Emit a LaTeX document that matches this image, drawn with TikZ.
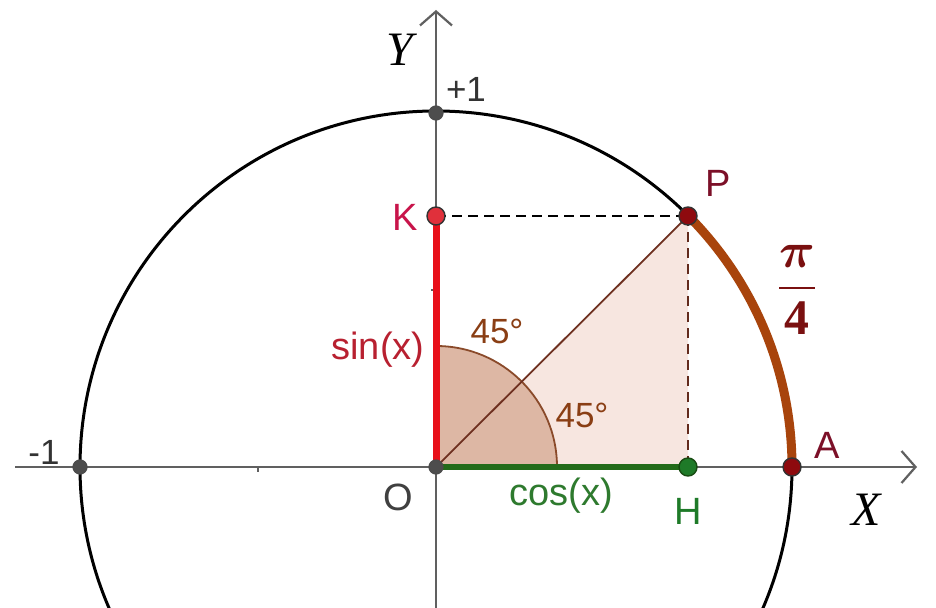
\documentclass[tikz,border=0pt]{standalone}
\usepackage{amsmath}
\usepackage{fontspec}
\setmainfont{Liberation Sans}
\newfontfamily\serifit{Liberation Serif}
\usetikzlibrary{arrows.meta}
\definecolor{axisgray}{HTML}{606060}
\definecolor{redseg}{HTML}{E8101A}
\definecolor{kred}{HTML}{E0303B}
\definecolor{klabel}{HTML}{C8144A}
\definecolor{sinlabel}{HTML}{B82030}
\definecolor{greenseg}{HTML}{236B1A}
\definecolor{greenpt}{HTML}{1E7A28}
\definecolor{coslabel}{HTML}{2E7A2E}
\definecolor{arcbrown}{HTML}{A8440C}
\definecolor{ptred}{HTML}{8E0A0E}
\definecolor{ptlabel}{HTML}{7C1028}
\definecolor{anglab}{HTML}{8A3E14}
\definecolor{trifill}{HTML}{F7E6E0}
\definecolor{sectfill}{HTML}{DDB7A4}
\definecolor{sectedge}{HTML}{8A4A2A}
\definecolor{oplinecol}{HTML}{6E3020}
\definecolor{fraccol}{HTML}{7A1010}
\begin{document}
\begin{tikzpicture}[x=0.5pt,y=-0.5pt,
  lab/.style={font=\fontsize{17.5}{20}\selectfont, inner sep=0pt},
  biglab/.style={font=\fontsize{19}{22}\selectfont, inner sep=0pt},
  axislab/.style={font=\serifit\itshape\fontsize{24}{28}\selectfont, inner sep=0pt},
  axisline/.style={draw=axisgray, line width=1.1pt, -{Straight Barb[length=7pt,width=16pt,line width=1.1pt]}},
  graypt/.style={circle, fill=axisgray!80!black, draw=black!70, line width=0.6pt, minimum size=7pt, inner sep=0pt},
  bigpt/.style={circle, draw=black!80, line width=0.7pt, minimum size=9pt, inner sep=0pt},
  tick/.style={draw=axisgray, line width=0.7pt}]
\useasboundingbox (0,0) rectangle (936,608);
\clip (0,0) rectangle (936,608);
\fill[white] (0,0) rectangle (936,608);
\coordinate (O) at (436,467);
\coordinate (K) at (436,216);
\coordinate (P) at (688,216);
\coordinate (H) at (688,467);
\coordinate (A) at (792,467);
\coordinate (T) at (436,113);
\coordinate (L) at (80,467);
\coordinate (S) at (557,467);
\coordinate (xs) at (15,467);
\coordinate (xe) at (917,467);
\coordinate (ys) at (436,608);
\coordinate (ye) at (436,10);
% fills
\fill[trifill] (O) -- (H) -- (P) -- cycle;
\fill[sectfill] (O) -- (S) arc[start angle=0,end angle=90,radius=60.5pt] -- cycle;
\draw[sectedge, line width=0.9pt] (S) arc[start angle=0,end angle=90,radius=60.5pt];
\draw[oplinecol, line width=0.9pt] (O) -- (P);
\draw[black, line width=1.2pt, dash pattern=on 5pt off 3pt] (K) -- (P);
\draw[oplinecol!90!black, line width=1.2pt, dash pattern=on 5pt off 3pt] (P) -- (H);
% axes
\draw[axisline] (xs) -- (xe);
\draw[axisline] (ys) -- (ye);
\draw[tick] (258,467) -- (258,472);
\draw[tick] (436,290) -- (431,290);
% circle
\draw[black, line width=1.5pt] (O) circle[radius=178pt];
% segments
\draw[redseg, line width=3.5pt] (O) -- (K);
\draw[greenseg, line width=3pt] (O) -- (H);
\draw[arcbrown, line width=4.5pt] (A) arc[start angle=0,end angle=45,radius=178pt];
% points
\node[graypt] (nO) at (O) {};
\node[graypt] (nT) at (T) {};
\node[graypt] (nL) at (L) {};
\node[bigpt, fill=kred] (nK) at (K) {};
\node[bigpt, fill=ptred] (nP) at (P) {};
\node[bigpt, fill=ptred] (nA) at (A) {};
\node[bigpt, fill=greenpt, draw=greenseg!70!black] (nH) at (H) {};
% labels
\node[axislab] (lY) at (400,50) {Y};
\node[axislab] (lX) at (866,510) {X};
\node[lab, text=black!80] (lp1) at (466,89) {+1};
\node[lab, text=black!80] (lm1) at (44,452) {-1};
\node[biglab, text=klabel] (lK) at (405,217) {K};
\node[biglab, text=ptlabel] (lP) at (718,183) {P};
\node[biglab, text=ptlabel] (lA) at (827,445) {A};
\node[biglab, text=black!75] (lO) at (398,497) {O};
\node[biglab, text=greenpt] (lH) at (688,511) {H};
\node[biglab, text=sinlabel] (lsin) at (378,350) {sin(x)};
\node[biglab, text=coslabel] (lcos) at (561,496) {cos(x)};
\node[lab, text=anglab] (la1) at (497,331) {45°};
\node[lab, text=anglab] (la2) at (582,415) {45°};
\node[inner sep=0pt, text=fraccol, font=\Huge] (lfrac) at (797,290) {$\dfrac{\boldsymbol{\pi}}{\text{\serifit\bfseries\upshape 4}}$};
\end{tikzpicture}
\end{document}
